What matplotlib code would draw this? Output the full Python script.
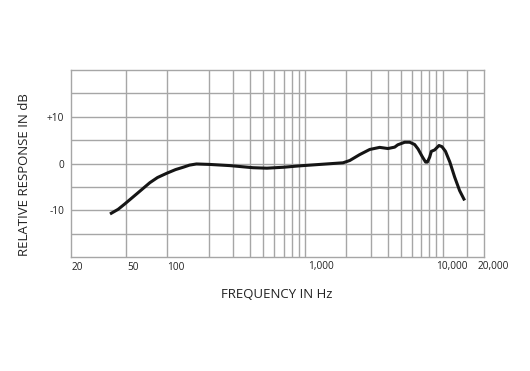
import matplotlib
matplotlib.use("Agg")
import matplotlib.pyplot as plt
import matplotlib.transforms as mtransforms

# Frequency response data (Hz, dB)
freq_hz = [38.4, 44, 49.4, 60, 74.8, 85, 99, 115, 130.6, 145, 163, 204, 285,
           420, 530, 700, 918, 1282, 1600, 1893, 2118, 2500, 2957, 3493, 4010,
           4490, 4730, 5310, 5770, 6270, 6640, 7110, 7530, 7760, 8060, 8290,
           8760, 9420, 9900, 10500, 11300, 12240, 13300, 14460]
response_db = [-10.8, -9.8, -8.6, -6.5, -4.1, -3.0, -2.1, -1.3, -0.8, -0.35, -0.1, -0.2, -0.45,
               -0.9, -1.0, -0.8, -0.5, -0.2, 0.0, 0.15, 0.64, 1.9, 3.0, 3.45, 3.2,
               3.5, 4.0, 4.55, 4.55, 4.06, 3.1, 1.5, 0.3, 0.3, 1.35, 2.6,
               2.9, 3.85, 3.6, 2.6, 0.3, -2.9, -5.8, -7.9]

x_grid = [50, 100, 200, 300, 400, 500, 600, 700, 800, 900, 1000,
          2000, 3000, 4000, 5000, 6000, 7000, 8000, 9000, 10000, 15000]
x_tick_vals = [20, 50, 100, 1000, 10000, 20000]
x_tick_labels = ["20", "50", "100", "1,000", "10,000", "20,000"]
x_tick_offsets_px = [1, 2, 0, 3, -6, -6]
y_grid = [-15, -10, -5, 0, 5, 10, 15]
y_tick_vals = [10, 0, -10]
y_tick_labels = ["+10", "0", "-10"]

plt.rcParams['font.family'] = ['Open Sans', 'DejaVu Sans']

W, H = 530, 371
fig = plt.figure(figsize=(W / 100, H / 100), dpi=100)
ax = fig.add_axes([71 / W, 1 - 257 / H, (484 - 71) / W, (257 - 70) / H])

grid_col = "#a6a6a6"
txt_col = "#222222"
ax.set_xscale("log")
ax.set_xlim(20, 20000)
ax.set_ylim(-20, 20)
for xv in x_grid:
    ax.axvline(xv, color=grid_col, lw=1.0, zorder=1)
for yv in y_grid:
    ax.axhline(yv, color=grid_col, lw=1.0, zorder=1)
for s in ax.spines.values():
    s.set_color(grid_col)
    s.set_linewidth(1.0)

ax.set_xticks([])
ax.set_xticks([], minor=True)
ax.set_yticks(y_tick_vals)
ax.set_yticklabels(y_tick_labels, fontsize=7.3, color=txt_col)
ax.tick_params(axis="y", length=0, pad=5)

ax.plot(freq_hz, response_db, color="#151515", lw=2.2, solid_capstyle="butt",
        solid_joinstyle="round", zorder=3)

for xv, lab, off in zip(x_tick_vals, x_tick_labels, x_tick_offsets_px):
    tr = mtransforms.offset_copy(ax.get_xaxis_transform(), fig=fig, x=off, y=-10, units="dots")
    ax.text(xv, 0, lab, transform=tr, ha="left", va="center", fontsize=7.3,
            color=txt_col, clip_on=False)

fig.text(277 / W, 1 - 295 / H, "FREQUENCY IN Hz", ha="center", va="center",
         fontsize=9.5, color=txt_col)
fig.text(25 / W, 1 - 175 / H, "RELATIVE RESPONSE IN dB", ha="center", va="center",
         rotation=90, fontsize=9.5, color=txt_col)

fig.savefig("out.png", dpi=100)
